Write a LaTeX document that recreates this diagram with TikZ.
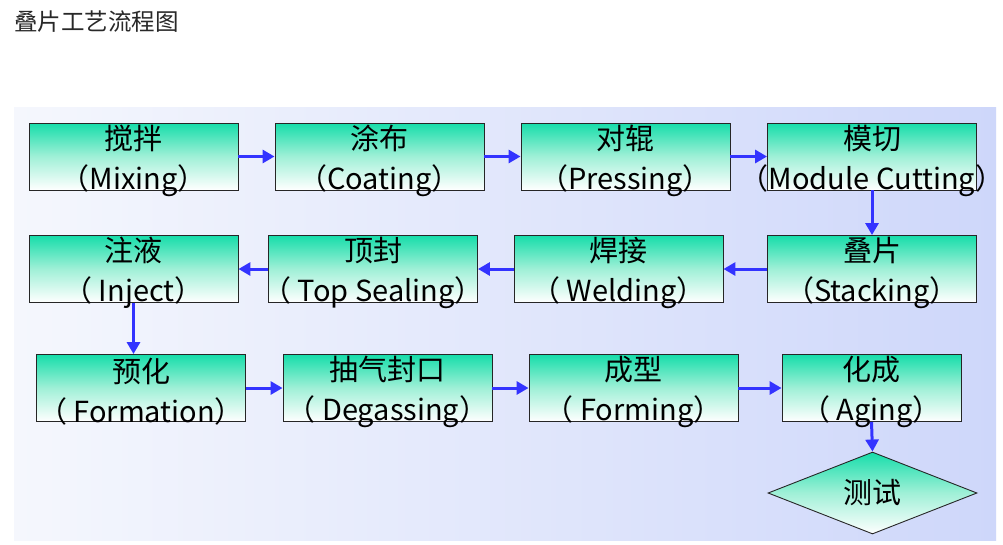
\documentclass[tikz,border=0pt]{standalone}
\usepackage{fontspec}
\newfontfamily\cjk{Noto Sans CJK SC}
\usetikzlibrary{arrows.meta,shapes.geometric}
\definecolor{bgleft}{RGB}{245,247,253}
\definecolor{bgright}{RGB}{206,215,250}
\definecolor{teal}{RGB}{22,221,170}
\definecolor{tealmid}{RGB}{160,240,215}
\definecolor{arrowblue}{RGB}{51,51,255}
\definecolor{titlegray}{RGB}{40,40,40}
\tikzset{
  lab/.style={align=center, inner sep=0pt, yshift=-4pt, font=\cjk\fontsize{29}{40}\selectfont},
  box/.style={draw=black!85, line width=0.9pt, minimum width=209pt, minimum height=67pt,
    inner sep=0pt, top color=teal, bottom color=white, middle color=tealmid,
    label={[lab]center:#1}},
  flow/.style={draw=arrowblue, line width=3pt, -{Triangle[length=12pt,width=13pt]}},
}
\begin{document}
\begin{tikzpicture}[x=1pt,y=-1pt]
\useasboundingbox (0,0) rectangle (1003,544);
\fill[white] (0,0) rectangle (1003,544);
\shade[left color=bgleft, right color=bgright] (14,107) rectangle (996,540);
\node[anchor=west, text=titlegray, font=\cjk\fontsize{23.5}{28}\selectfont, inner sep=0pt] (title) at (14,22) {叠片工艺流程图};
% row 1
\node[box={搅拌\\（Mixing）}] (mix) at (133.5,156.5) {};
\node[box={涂布\\（Coating）}] (coat) at (379.5,156.5) {};
\node[box={对辊\\（Pressing）}] (press) at (625.5,156.5) {};
\node[box={模切\\（Module Cutting）}] (cut) at (872,156.5) {};
% row 2
\node[box={注液\\（ Inject）}] (inj) at (133.5,269) {};
\node[box={顶封\\（ Top Sealing）}] (seal) at (373,269) {};
\node[box={焊接\\（ Welding）}] (weld) at (618.5,269) {};
\node[box={叠片\\（Stacking）}] (stack) at (872,269) {};
% row 3
\node[box={预化\\（ Formation）}] (form) at (141,388) {};
\node[box={抽气封口\\（ Degassing）}] (degas) at (387.5,388) {};
\node[box={成型\\（ Forming）}] (forming) at (633.5,388) {};
\node[box={化成\\（ Aging）}, minimum width=179pt] (aging) at (871.5,388) {};
% test diamond
\node[diamond, draw=black!85, line width=0.9pt, minimum width=209pt, minimum height=82pt, inner sep=0pt,
  aspect=2.55, top color=teal, bottom color=white, middle color=tealmid,
  font=\cjk\fontsize{29}{32}\selectfont] (test) at (872.5,493) {测试};
% connectors
\draw[flow] (mix) -- (coat);
\draw[flow] (coat) -- (press);
\draw[flow] (press) -- (cut);
\draw[flow] (cut) -- (stack);
\draw[flow] (stack) -- (weld);
\draw[flow] (weld) -- (seal);
\draw[flow] (seal) -- (inj);
\draw[flow] (inj.south) -- (inj.south |- form.north);
\draw[flow] (form) -- (degas);
\draw[flow] (degas) -- (forming);
\draw[flow] (forming) -- (aging);
\draw[flow] (aging.south) -- (test.north);
\end{tikzpicture}
\end{document}
